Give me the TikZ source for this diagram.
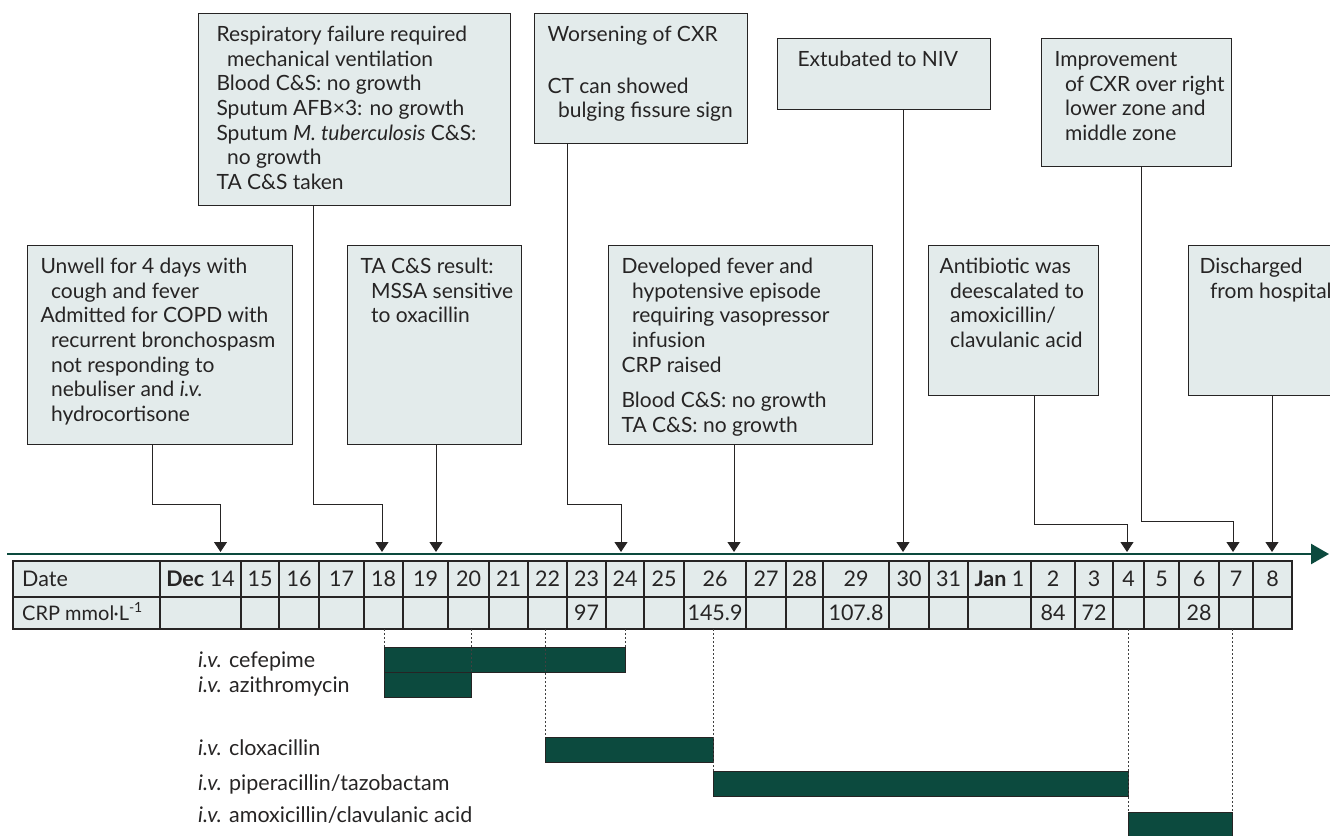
\documentclass[tikz,border=0pt]{standalone}
\usepackage{fontspec}
\setmainfont{Lato}
\usetikzlibrary{arrows.meta, positioning, calc}
\definecolor{boxfill}{RGB}{227,235,235}
\definecolor{ink}{RGB}{38,36,36}
\definecolor{pine}{RGB}{12,74,62}
\newcommand{\ind}{\hspace*{0.5em}}
\newcommand{\evtext}[3]{\parbox[t][#2][t]{#1}{\vspace*{3pt}\begin{tabular}[t]{@{}l@{}}#3\end{tabular}}}
\tikzset{
    base/.style={font=\fontsize{21}{24.6}\selectfont, text=ink},
    event/.style={base, rectangle, draw=ink, fill=boxfill, line width=1.1pt, anchor=north west, inner xsep=13pt, inner ysep=8pt},
    cell/.style={font=\fontsize{21.5}{24.6}\selectfont, text=ink, inner sep=0pt, anchor=base},
    drug/.style={font=\fontsize{21.5}{24.6}\selectfont, text=ink, inner sep=0pt, anchor=base west},
    course/.style={rectangle, draw=ink, fill=pine, line width=0.8pt, inner sep=0pt, minimum height=25pt, anchor=north west},
    link/.style={draw=ink, line width=1pt, -{Triangle[length=10pt, width=13pt]}},
    guide/.style={draw=black!75, line width=0.8pt, dash pattern=on 2pt off 2pt},
    tabrule/.style={draw=ink, line width=1.3pt},
    timeline/.style={draw=pine, line width=2.5pt, -{Triangle[length=18pt, width=20pt]}}
}

\begin{document}
\begin{tikzpicture}[x=1pt, y=-1pt]
        \path[use as bounding box, clip] (0,0) rectangle (1330,835);

        % -- Event boxes, upper row --
        \node (ev2) [event, inner xsep=18pt] at (198,13) {\evtext{276pt}{176pt}{Respiratory failure required\\
            \ind mechanical ventilation\\
            Blood C\&S: no growth\\
            Sputum AFB×3: no growth\\
            Sputum \textit{M. tuberculosis} C\&S:\\
            \ind no growth\\
            TA C\&S taken}};
        \node (ev4) [event] at (534,13) {\evtext{187pt}{114pt}{Worsening of CXR\\[27pt]
            CT can showed\\
            \ind bulging fissure sign}};
        \node (ev6) [event, inner xsep=20pt] at (777,38) {\evtext{173pt}{55pt}{Extubated to NIV}};
        \node (ev7) [event] at (1041,38) {\evtext{164pt}{112pt}{Improvement\\
            \ind of CXR over right\\
            \ind lower zone and\\
            \ind middle zone}};

        % -- Event boxes, lower row --
        \node (ev1) [event] at (27,245) {\evtext{239pt}{183pt}{Unwell for 4 days with\\
            \ind cough and fever\\
            Admitted for COPD with\\
            \ind recurrent bronchospasm\\
            \ind not responding to\\
            \ind nebuliser and \textit{i.v.}\\
            \ind hydrocortisone}};
        \node (ev3) [event] at (347,245) {\evtext{148pt}{183pt}{TA C\&S result:\\
            \ind MSSA sensitive\\
            \ind to oxacillin}};
        \node (ev5) [event] at (608,245) {\evtext{238pt}{183pt}{Developed fever and\\
            \ind hypotensive episode\\
            \ind requiring vasopressor\\
            \ind infusion\\
            CRP raised\\[11pt]
            Blood C\&S: no growth\\
            TA C\&S: no growth}};
        \node (ev8) [event, inner xsep=11pt] at (928,245) {\evtext{148pt}{134pt}{Antibiotic was\\
            \ind deescalated to\\
            \ind amoxicillin/\\
            \ind clavulanic acid}};
        \node (ev9) [event, inner xsep=11pt] at (1188,245) {\evtext{138pt}{134pt}{Discharged\\
            \ind from hospital}};

        % -- Table --
        \coordinate (tabtop) at (13,561);
        \coordinate (tabfoot) at (13,629);
        \draw[tabrule, fill=boxfill] (tabtop) rectangle (1292,629);
        \draw[tabrule] (13,597) -- (1292,597);
        \node[cell, anchor=base west] (datehead) at (22,586) {Date};
        \node[cell, anchor=base west, font=\fontsize{20}{24}\selectfont] (crphead) at (22,620) {CRP mmol·L\textsuperscript{-1}};
        \foreach \a/\b/\d/\v [count=\i] in {160/241/{\textbf{Dec} 14}/{}, 241/279/15/{}, 279/319/16/{},
                319/364/17/{}, 364/403/18/{}, 403/448/19/{}, 448/489/20/{}, 489/528/21/{},
                528/567/22/{}, 567/606/23/97, 606/644/24/{}, 644/684/25/{}, 684/746/26/145.9,
                746/786/27/{}, 786/823/28/{}, 823/889/29/107.8, 889/929/30/{}, 929/968/31/{},
                968/1031/{\textbf{Jan} 1}/{}, 1031/1075/2/84, 1075/1113/3/72, 1113/1144/4/{},
                1144/1179/5/{}, 1179/1219/6/28, 1219/1253/7/{}, 1253/1292/8/{}} {
            \draw[tabrule] (\a,561) -- (\a,629);
            \node[cell] (day\i) at ({(\a+\b)/2},586) {\d};
            \node[cell] (crp\i) at ({(\a+\b)/2},620) {\v};
        }

        % -- Timeline --
        \coordinate (tl0) at (7,554);
        \coordinate (tl1) at (1329,554);
        \draw[timeline] (tl0) -- (tl1);

        \coordinate (a1) at (220.5,552);
        \coordinate (a2) at (382,552);
        \coordinate (a3) at (436,552);
        \coordinate (a4) at (621,552);
        \coordinate (a5) at (734,552);
        \coordinate (a6) at (903,552);
        \coordinate (a7) at (1233,552);
        \coordinate (a8) at (1127,552);
        \coordinate (a9) at (1272,552);

        % Connectors
        \draw[link] ([xshift=125pt]ev1.south west) -- ++(0,59) -| (a1);
        \draw[link] ([xshift=115pt]ev2.south west) -- ++(0,298) -| (a2);
        \draw[link] (ev3.south -| a3) -- (a3);
        \draw[link] ([xshift=33pt]ev4.south west) -- ++(0,360) -| (a4);
        \draw[link] (ev5.south -| a5) -- (a5);
        \draw[link] (ev6.south -| a6) -- (a6);
        \draw[link] ([xshift=100pt]ev7.south west) -- ++(0,354) -| (a7);
        \draw[link] ([xshift=106pt]ev8.south west) -- ++(0,128) -| (a8);
        \draw[link] (ev9.south -| a9) -- (a9);

        % -- Antibiotic courses --
        \node (cefe) [course, minimum width=241pt] at (384,647) {};
        \node (azi) [course, minimum width=87pt] at (384,672) {};
        \node (clox) [course, minimum width=168pt] at (545,737) {};
        \node (pip) [course, minimum width=415pt] at (713,771) {};
        \node (amox) [course, minimum width=104pt, minimum height=30pt] at (1128,812) {};

        \begin{scope}[on background layer/.try]
        \draw[guide] (cefe.north west |- tabfoot) -- (cefe.north west);
        \draw[guide] (azi.north east |- tabfoot) -- (azi.north east);
        \draw[guide] (clox.north west |- tabfoot) -- (clox.north west);
        \draw[guide] (cefe.north east |- tabfoot) -- (cefe.north east);
        \draw[guide] (pip.north west |- tabfoot) -- (pip.north west);
        \draw[guide] (amox.north west |- tabfoot) -- (amox.north west);
        \draw[guide] (amox.north east |- tabfoot) -- (amox.north east);
        \end{scope}

        \node (drug1) [drug] at (198,667) {\textit{i.v.} cefepime};
        \node (drug2) [drug] at (198,692) {\textit{i.v.} azithromycin};
        \node (drug3) [drug] at (198,755) {\textit{i.v.} cloxacillin};
        \node (drug4) [drug] at (198,790) {\textit{i.v.} piperacillin/tazobactam};
        \node (drug5) [drug] at (198,822) {\textit{i.v.} amoxicillin/clavulanic acid};
\end{tikzpicture}
\end{document}
